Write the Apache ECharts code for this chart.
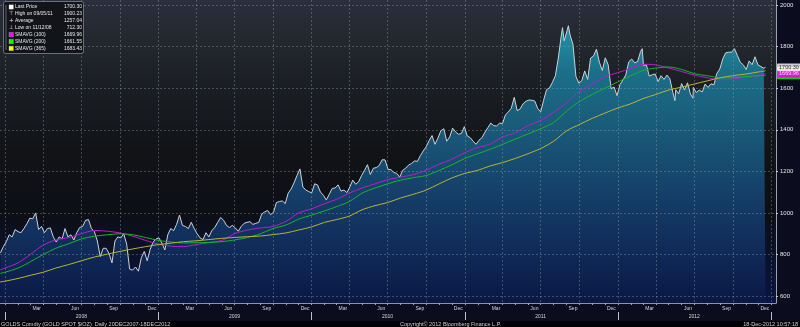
<!DOCTYPE html>
<html><head><meta charset="utf-8">
<script src="https://cdn.jsdelivr.net/npm/echarts@6/dist/echarts.min.js"></script>
<style>html,body{margin:0;padding:0;background:#0b0d1e}#c{width:800px;height:327px}</style>
</head><body><div id="c"></div>
<script>
// ---------- DATA ----------
const priceDates = [
'2007-12-21','2007-12-28',
'2008-01-04','2008-01-11','2008-01-18','2008-01-25','2008-02-01','2008-02-08','2008-02-15','2008-02-22','2008-02-29',
'2008-03-07','2008-03-14','2008-03-21','2008-03-28','2008-04-04','2008-04-11','2008-04-18','2008-04-25','2008-05-02',
'2008-05-09','2008-05-16','2008-05-23','2008-05-30','2008-06-06','2008-06-13','2008-06-20','2008-06-27','2008-07-04',
'2008-07-11','2008-07-18','2008-07-25','2008-08-01','2008-08-08','2008-08-15','2008-08-22','2008-08-29','2008-09-05',
'2008-09-12','2008-09-19','2008-09-26','2008-10-03','2008-10-10','2008-10-17','2008-10-24','2008-10-31','2008-11-07',
'2008-11-14','2008-11-21','2008-11-28','2008-12-05','2008-12-12','2008-12-19','2008-12-26',
'2009-01-02','2009-01-09','2009-01-16','2009-01-23','2009-01-30','2009-02-06','2009-02-13','2009-02-20','2009-02-27',
'2009-03-06','2009-03-13','2009-03-20','2009-03-27','2009-04-03','2009-04-10','2009-04-17','2009-04-24','2009-05-01',
'2009-05-08','2009-05-15','2009-05-22','2009-05-29','2009-06-05','2009-06-12','2009-06-19','2009-06-26','2009-07-03',
'2009-07-10','2009-07-17','2009-07-24','2009-07-31','2009-08-07','2009-08-14','2009-08-21','2009-08-28','2009-09-04',
'2009-09-11','2009-09-18','2009-09-25','2009-10-02','2009-10-09','2009-10-16','2009-10-23','2009-10-30','2009-11-06',
'2009-11-13','2009-11-20','2009-11-27','2009-12-04','2009-12-11','2009-12-18','2009-12-25',
'2010-01-01','2010-01-08','2010-01-15','2010-01-22','2010-01-29','2010-02-05','2010-02-12','2010-02-19','2010-02-26',
'2010-03-05','2010-03-12','2010-03-19','2010-03-26','2010-04-02','2010-04-09','2010-04-16','2010-04-23','2010-04-30',
'2010-05-07','2010-05-14','2010-05-21','2010-05-28','2010-06-04','2010-06-11','2010-06-18','2010-06-25','2010-07-02',
'2010-07-09','2010-07-16','2010-07-23','2010-07-30','2010-08-06','2010-08-13','2010-08-20','2010-08-27','2010-09-03',
'2010-09-10','2010-09-17','2010-09-24','2010-10-01','2010-10-08','2010-10-15','2010-10-22','2010-10-29','2010-11-05',
'2010-11-12','2010-11-19','2010-11-26','2010-12-03','2010-12-10','2010-12-17','2010-12-24','2010-12-31',
'2011-01-07','2011-01-14','2011-01-21','2011-01-28','2011-02-04','2011-02-11','2011-02-18','2011-02-25','2011-03-04',
'2011-03-11','2011-03-18','2011-03-25','2011-04-01','2011-04-08','2011-04-15','2011-04-22','2011-04-29','2011-05-06',
'2011-05-13','2011-05-20','2011-05-27','2011-06-03','2011-06-10','2011-06-17','2011-06-24','2011-07-01','2011-07-08',
'2011-07-15','2011-07-22','2011-07-29','2011-08-05','2011-08-12','2011-08-19','2011-08-22','2011-08-26','2011-09-02',
'2011-09-05','2011-09-09','2011-09-16','2011-09-23','2011-09-30','2011-10-07','2011-10-14','2011-10-21','2011-10-28',
'2011-11-04','2011-11-11','2011-11-18','2011-11-25','2011-12-02','2011-12-09','2011-12-16','2011-12-23','2011-12-30',
'2012-01-06','2012-01-13','2012-01-20','2012-01-27','2012-02-03','2012-02-10','2012-02-17','2012-02-24','2012-02-28',
'2012-03-02','2012-03-09','2012-03-16','2012-03-23','2012-03-30','2012-04-06','2012-04-13','2012-04-20','2012-04-27',
'2012-05-04','2012-05-11','2012-05-16','2012-05-18','2012-05-25','2012-06-01','2012-06-08','2012-06-15','2012-06-22',
'2012-06-28','2012-06-29','2012-07-06','2012-07-13','2012-07-20','2012-07-27','2012-08-03','2012-08-10','2012-08-17',
'2012-08-24','2012-08-31','2012-09-07','2012-09-14','2012-09-21','2012-09-28','2012-10-05','2012-10-12','2012-10-19',
'2012-10-26','2012-11-02','2012-11-09','2012-11-16','2012-11-23','2012-11-30','2012-12-07','2012-12-14','2012-12-18'
];
const priceValues = [
808,838,
862,895,885,920,910,905,925,948,975,
972,1000,920,935,905,925,928,885,860,
885,875,925,885,895,870,905,930,935,
965,968,925,910,865,790,830,830,805,
760,865,885,880,900,850,730,725,740,
720,785,815,770,825,860,875,
880,855,822,895,925,915,945,990,940,
935,925,955,925,900,880,872,905,885,
915,930,955,978,965,940,930,940,928,
912,935,950,955,958,945,950,955,995,
1005,1012,992,1003,1050,1055,1058,1045,1095,
1115,1145,1180,1212,1125,1110,1103,
1096,1140,1135,1100,1085,1062,1090,1118,1120,
1135,1105,1110,1098,1125,1158,1138,1150,1180,
1205,1232,1185,1215,1218,1228,1256,1255,1210,
1208,1195,1190,1172,1205,1215,1230,1238,1250,
1248,1275,1298,1318,1348,1372,1330,1360,1395,
1405,1345,1365,1408,1390,1378,1382,1415,
1370,1362,1345,1330,1350,1362,1388,1410,1432,
1420,1418,1432,1430,1472,1486,1504,1556,1492,
1500,1525,1537,1543,1542,1538,1502,1486,1542,
1593,1601,1628,1660,1745,1852,1891,1828,1877,
1900.23,1856,1811,1657,1624,1636,1683,1642,1745,
1755,1788,1724,1685,1746,1712,1597,1606,1564,
1617,1639,1664,1727,1740,1722,1728,1775,1790,
1710,1712,1658,1665,1668,1632,1660,1642,1663,
1645,1580,1540,1593,1573,1622,1591,1626,1572,
1552,1604,1579,1591,1582,1620,1604,1621,1616,
1671,1692,1740,1770,1773,1773,1790,1757,1724,
1712,1690,1731,1713,1751,1712,1704,1696,1700.30
];
const maDates = ['2007-12-20',
'2008-01-01','2008-02-01','2008-03-01','2008-04-01','2008-05-01','2008-06-01','2008-07-01','2008-08-01','2008-09-01','2008-10-01','2008-11-01','2008-12-01',
'2009-01-01','2009-02-01','2009-03-01','2009-04-01','2009-05-01','2009-06-01','2009-07-01','2009-08-01','2009-09-01','2009-10-01','2009-11-01','2009-12-01',
'2010-01-01','2010-02-01','2010-03-01','2010-04-01','2010-05-01','2010-06-01','2010-07-01','2010-08-01','2010-09-01','2010-10-01','2010-11-01','2010-12-01',
'2011-01-01','2011-02-01','2011-03-01','2011-04-01','2011-05-01','2011-06-01','2011-07-01','2011-08-01','2011-09-01','2011-10-01','2011-11-01','2011-12-01',
'2012-01-01','2012-02-01','2012-03-01','2012-04-01','2012-05-01','2012-06-01','2012-07-01','2012-08-01','2012-09-01','2012-10-01','2012-11-01','2012-12-01',
'2012-12-18'];
const sma100 = [726,
735,760,800,845,870,882,900,916,912,904,888,868,
850,840,838,848,858,868,900,918,928,935,960,1000,
1020,1045,1065,1096,1120,1140,1160,1172,1185,1205,1235,1258,
1290,1315,1330,1365,1385,1420,1445,1485,1530,1585,1620,1655,
1675,1695,1715,1712,1697,1680,1663,1650,1640,1645,1652,1660,
1669.96];
const sma200 = [709,
715,735,765,800,830,852,875,888,895,900,895,882,
868,860,856,857,858,862,870,882,900,925,942,970,
990,1010,1030,1055,1095,1120,1140,1158,1170,1180,1205,1231,
1262,1285,1305,1330,1355,1380,1405,1435,1490,1535,1570,1600,
1630,1660,1685,1697,1702,1690,1670,1660,1650,1650,1656,1660,
1661.55];
const sma365 = [668,
672,685,700,715,735,752,770,788,802,815,827,838,
848,855,862,866,872,878,882,886,889,896,904,918,
933,955,968,985,1015,1035,1050,1072,1090,1110,1140,1168,
1190,1205,1225,1242,1262,1285,1310,1345,1395,1425,1455,1480,
1505,1525,1550,1570,1591,1605,1620,1635,1650,1660,1668,1678,
1683.43];
const yTicks = [600,800,1000,1200,1400,1600,1800,2000];
const monthNames = ['Jan','Feb','Mar','Apr','May','Jun','Jul','Aug','Sep','Oct','Nov','Dec'];
const labelMonths = ['Mar','Jun','Sep','Dec'];
const yearLabels = ['2008','2009','2010','2011','2012'];
const legendLabels = ['Last Price','High on 09/05/11','Average','Low on 11/12/08','SMAVG (100)','SMAVG (200)','SMAVG (365)'];
const legendValues = ['1700.30','1900.23','1257.04','712.30','1669.96','1661.55','1683.43'];
const legendMarkers = ['sq','\u22A4','+','\u22A5','sq','sq','sq'];
const legendColors = ['#ffffff',null,null,null,'#ff00ff','#00ff00','#ffff00'];
const footerLeft = 'GOLDS Comdty (GOLD SPOT $/OZ)  Daily 20DEC2007-18DEC2012';
const footerMid = 'Copyright\u00A9 2012 Bloomberg Finance L.P.';
const footerRight = '18-Dec-2012 10:57:18';

// ---------- HELPERS ----------
function ts(s){const p=s.split('-').map(Number);return new Date(p[0],p[1]-1,p[2]).getTime();}
const xMin = ts('2007-12-20'), xMax = ts('2013-01-12');
const monthTicks=[], quarterTicks=[], monthLabelVals=[], yearSeps=[], yearMids=[];
for(let y=2008;y<=2013;y++){
  yearSeps.push(new Date(y,0,1).getTime());
  if(y<2013) yearMids.push(new Date(y,6,1).getTime());
  for(let m=0;m<12;m++){
    if(y===2013 && m>0) break;
    const t=new Date(y,m,1).getTime();
    monthTicks.push(t);
    if(m%3===0) quarterTicks.push(t);
    if(y<2013 && labelMonths.indexOf(monthNames[m])>=0){
      monthLabelVals.push((t+new Date(y,m+1,1).getTime())/2);
    }
  }
}
const priceData = priceDates.map((d,i)=>[ts(d),priceValues[i]]);
const ma = arr => maDates.map((d,i)=>[ts(d),arr[i]]);
const lastDate = ts(priceDates[priceDates.length-1]);
const FONT = '"Liberation Sans", Arial, sans-serif';

function tag(val,bg,fg,z){
  return {type:'scatter',data:[[lastDate,val]],symbolSize:1,itemStyle:{color:'rgba(0,0,0,0)'},z:z,silent:true,
    label:{show:true,position:'right',distance:11,formatter:val.toFixed(2),backgroundColor:bg,color:fg,
      fontSize:5.5,fontFamily:FONT,padding:[1,2,0.5,2],borderRadius:1}};
}

// legend graphic
const g=[];
g.push({type:'rect',shape:{x:3.5,y:1.5,width:80,height:52,r:2},style:{fill:'rgba(16,18,24,0.92)',stroke:'#80858e',lineWidth:0.8},z:100});
g.push({type:'line',shape:{x1:6,y1:5,x2:6,y2:50},style:{stroke:'#9a9ea6',lineWidth:0.6},z:101});
legendLabels.forEach((lb,i)=>{
  const y=7+i*6.9;
  if(legendMarkers[i]==='sq'){
    g.push({type:'rect',shape:{x:9,y:y-2.2,width:4.4,height:4.4},style:{fill:legendColors[i],stroke:'#d0d0d0',lineWidth:0.3},z:101});
  } else {
    g.push({type:'text',style:{text:legendMarkers[i],x:11.2,y:y,fill:'#e8e8e8',fontSize:5.5,fontFamily:'"DejaVu Sans"',align:'center',verticalAlign:'middle'},z:101});
  }
  g.push({type:'text',style:{text:lb,x:15,y:y,fill:'#e6e6e6',fontSize:5,fontFamily:FONT,verticalAlign:'middle'},z:101});
  g.push({type:'text',style:{text:legendValues[i],x:82,y:y,fill:'#e6e6e6',fontSize:5,fontFamily:FONT,align:'right',verticalAlign:'middle'},z:101});
});
g.push({type:'rect',shape:{x:0,y:321,width:800,height:6},style:{fill:'#000000'},z:-1});
g.push({type:'text',style:{text:footerLeft,x:1,y:324,fill:'#cfcfcf',fontSize:5.5,fontFamily:FONT,verticalAlign:'middle'},z:5});
g.push({type:'text',style:{text:footerMid,x:400,y:324,fill:'#cfcfcf',fontSize:5.5,fontFamily:FONT,verticalAlign:'middle'},z:5});
g.push({type:'text',style:{text:footerRight,x:798,y:324,fill:'#cfcfcf',fontSize:5.5,fontFamily:FONT,align:'right',verticalAlign:'middle'},z:5});

const gridLine = {color:'rgba(150,160,172,0.38)',width:1,type:[2,2]};
const chart = echarts.init(document.getElementById('c'),null,{renderer:'canvas'});
chart.setOption({
  animation:false,
  backgroundColor:'#0b0d1e',
  grid:{left:0,right:24,top:0,bottom:24,show:true,borderWidth:0,
    backgroundColor:{type:'linear',x:0,y:0,x2:0,y2:1,colorStops:[
      {offset:0,color:'#2c2f3e'},{offset:0.1,color:'#252931'},{offset:0.3,color:'#1a1e23'},
      {offset:0.5,color:'#111316'},{offset:0.7,color:'#0d0f16'},{offset:0.85,color:'#0b1129'},{offset:1,color:'#0b1444'}]}},
  xAxis:[
    {type:'value',min:xMin,max:xMax,position:'bottom',z:2,
     axisLine:{show:true,lineStyle:{color:'#8c94a0',width:1}},
     axisTick:{show:true,customValues:monthTicks,length:2,lineStyle:{color:'#a0a6ae'}},
     axisLabel:{customValues:monthLabelVals,formatter:v=>monthNames[new Date(v).getMonth()],color:'#d4d4d4',fontSize:5,fontFamily:FONT,margin:3},
     splitLine:{show:false}},
    {type:'value',min:xMin,max:xMax,position:'bottom',offset:9,z:2,
     axisLine:{show:false},
     axisTick:{show:true,customValues:yearSeps,length:8,lineStyle:{color:'#c0c0c0'}},
     axisLabel:{customValues:yearMids,formatter:v=>yearLabels[new Date(v).getFullYear()-2008],color:'#d4d4d4',fontSize:5,fontFamily:FONT,margin:2},
     splitLine:{show:false}},
    {type:'value',min:xMin,max:xMax,position:'top',z:2,
     axisLine:{show:false},axisTick:{show:false,customValues:quarterTicks},axisLabel:{show:false,customValues:quarterTicks},
     splitLine:{show:true,lineStyle:gridLine}}
  ],
  yAxis:{type:'value',position:'right',min:567,max:2024,z:2,
    axisLine:{show:true,lineStyle:{color:'#9aa3ad',width:1}},
    axisTick:{show:true,customValues:yTicks,length:2,lineStyle:{color:'#d0d0d0'}},
    axisLabel:{customValues:yTicks,formatter:v=>String(v),color:'#e4e4e4',fontSize:6,fontFamily:FONT,margin:4},
    splitLine:{show:true,lineStyle:gridLine}},
  series:[
    {type:'line',name:'Last Price',data:priceData,symbol:'none',z:1,
     lineStyle:{color:'#cdd1d8',width:1},
     areaStyle:{opacity:1,color:{type:'linear',global:true,x:0,y:20,x2:0,y2:303,colorStops:[
       {offset:0,color:'#2597ad'},{offset:0.18,color:'#1b7089'},{offset:0.4,color:'#195878'},
       {offset:0.65,color:'#143b66'},{offset:0.82,color:'#102a58'},{offset:1,color:'#0a1846'}]}}},
    {type:'line',name:'SMAVG (100)',data:ma(sma100),symbol:'none',smooth:0.3,z:3,lineStyle:{color:'#b81fcc',width:1}},
    {type:'line',name:'SMAVG (200)',data:ma(sma200),symbol:'none',smooth:0.3,z:3,lineStyle:{color:'#17b52c',width:1}},
    {type:'line',name:'SMAVG (365)',data:ma(sma365),symbol:'none',smooth:0.3,z:3,lineStyle:{color:'#b9b434',width:1}},
    tag(sma365[sma365.length-1],'#ffff00','#000',4),
    tag(sma200[sma200.length-1],'#00ff00','#000',5),
    tag(sma100[sma100.length-1],'#ff00ff','#fff',6),
    tag(priceValues[priceValues.length-1],'#ffffff','#000',7)
  ],
  graphic:g
});
</script></body></html>
